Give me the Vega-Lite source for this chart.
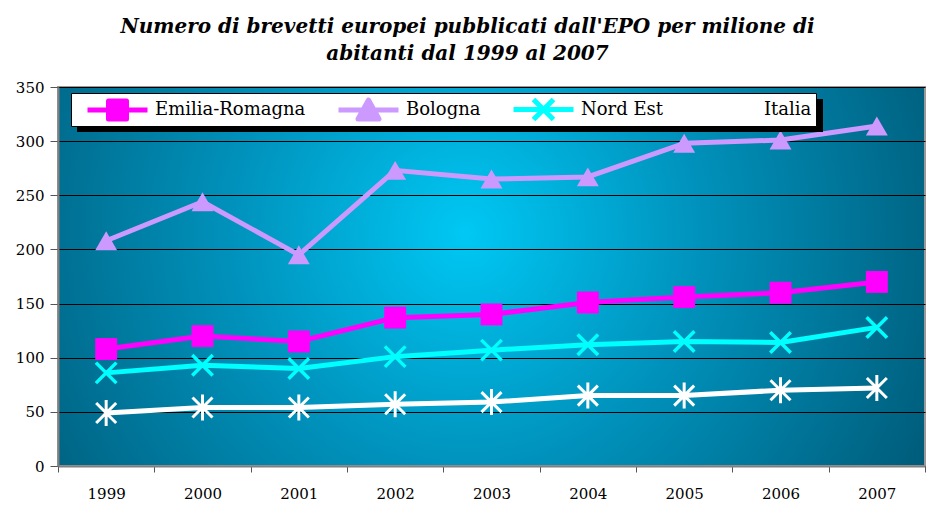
{
  "$schema": "https://vega.github.io/schema/vega-lite/v6.json",
  "width": 867,
  "height": 379,
  "autosize": "none",
  "padding": {"left": 58, "top": 87, "right": 6, "bottom": 49},
  "background": "white",
  "title": {
    "text": ["Numero di brevetti europei pubblicati dall'EPO per milione di", "abitanti dal 1999 al 2007"],
    "font": "DejaVu Serif",
    "fontStyle": "italic",
    "fontWeight": "bold",
    "fontSize": 20,
    "lineHeight": 27,
    "color": "black",
    "anchor": "middle",
    "frame": "group",
    "dx": -24,
    "offset": 16
  },
  "data": {
    "values": [
      {"year": "1999", "series": "Emilia-Romagna", "value": 108},
      {"year": "2000", "series": "Emilia-Romagna", "value": 120},
      {"year": "2001", "series": "Emilia-Romagna", "value": 115},
      {"year": "2002", "series": "Emilia-Romagna", "value": 137},
      {"year": "2003", "series": "Emilia-Romagna", "value": 140},
      {"year": "2004", "series": "Emilia-Romagna", "value": 151},
      {"year": "2005", "series": "Emilia-Romagna", "value": 156},
      {"year": "2006", "series": "Emilia-Romagna", "value": 160},
      {"year": "2007", "series": "Emilia-Romagna", "value": 170},
      {"year": "1999", "series": "Bologna", "value": 208},
      {"year": "2000", "series": "Bologna", "value": 244},
      {"year": "2001", "series": "Bologna", "value": 195},
      {"year": "2002", "series": "Bologna", "value": 273},
      {"year": "2003", "series": "Bologna", "value": 265},
      {"year": "2004", "series": "Bologna", "value": 267},
      {"year": "2005", "series": "Bologna", "value": 298},
      {"year": "2006", "series": "Bologna", "value": 301},
      {"year": "2007", "series": "Bologna", "value": 314},
      {"year": "1999", "series": "Nord Est", "value": 86},
      {"year": "2000", "series": "Nord Est", "value": 93},
      {"year": "2001", "series": "Nord Est", "value": 90},
      {"year": "2002", "series": "Nord Est", "value": 101},
      {"year": "2003", "series": "Nord Est", "value": 107},
      {"year": "2004", "series": "Nord Est", "value": 112},
      {"year": "2005", "series": "Nord Est", "value": 115},
      {"year": "2006", "series": "Nord Est", "value": 114},
      {"year": "2007", "series": "Nord Est", "value": 128},
      {"year": "1999", "series": "Italia", "value": 49},
      {"year": "2000", "series": "Italia", "value": 54},
      {"year": "2001", "series": "Italia", "value": 54},
      {"year": "2002", "series": "Italia", "value": 57},
      {"year": "2003", "series": "Italia", "value": 59},
      {"year": "2004", "series": "Italia", "value": 65},
      {"year": "2005", "series": "Italia", "value": 65},
      {"year": "2006", "series": "Italia", "value": 70},
      {"year": "2007", "series": "Italia", "value": 72}
    ]
  },
  "encoding": {
    "x": {
      "field": "year",
      "type": "ordinal",
      "scale": {"type": "band", "paddingInner": 0, "paddingOuter": 0},
      "axis": {
        "title": null,
        "labelAngle": 0,
        "tickBand": "extent",
        "labelFont": "DejaVu Serif",
        "labelFontSize": 15,
        "labelColor": "black",
        "labelPadding": 14,
        "tickSize": 6,
        "tickColor": "#555",
        "domainColor": "#808080",
        "domainWidth": 2,
        "grid": false
      }
    },
    "y": {
      "field": "value",
      "type": "quantitative",
      "scale": {"domain": [0, 350], "nice": false},
      "axis": {
        "title": null,
        "values": [0, 50, 100, 150, 200, 250, 300, 350],
        "labelFont": "DejaVu Serif",
        "labelFontSize": 15,
        "labelColor": "black",
        "labelPadding": 6,
        "tickSize": 8,
        "tickColor": "#555",
        "domainColor": "#808080",
        "domainWidth": 2,
        "grid": true,
        "gridColor": "black",
        "gridWidth": 1,
        "gridOpacity": 1
      }
    },
    "color": {
      "field": "series",
      "type": "nominal",
      "scale": {
        "domain": ["Emilia-Romagna", "Bologna", "Nord Est", "Italia"],
        "range": ["#FF00FF", "#CC99FF", "#00FFFF", "#FFFFFF"]
      },
      "legend": {
        "title": null,
        "orient": "none",
        "legendX": 13,
        "legendY": 6,
        "zindex": 2,
        "direction": "horizontal",
        "columns": 4,
        "columnPadding": 20,
        "padding": 4,
        "fillColor": "white",
        "strokeColor": "black",
        "labelFont": "DejaVu Serif",
        "labelFontSize": 18,
        "labelColor": "black",
        "labelOffset": 55,
        "symbolSize": 400,
        "symbolStrokeWidth": 5,
        "encode": {
          "symbols": {
            "update": {
              "shape": {"signal": "datum.value === 'Emilia-Romagna' ? 'M0,0H6M2.1,-0.9H3.9V0.9H2.1Z' : datum.value === 'Bologna' ? 'M0,0H6M3,-1L4.05,0.9L1.95,0.9Z' : datum.value === 'Nord Est' ? 'M0,0H6M2,-1L4,1M2,1L4,-1' : 'M0,0H6M2,-1L4,1M2,1L4,-1M3,-1V1'"},
              "fill": {"signal": "scale('color', datum.value)"},
              "stroke": {"signal": "scale('color', datum.value)"},
              "strokeWidth": {"value": 5},
              "strokeJoin": {"value": "round"},
              "size": {"value": 400},
              "opacity": {"value": 1}
            }
          }
        }
      }
    }
  },
  "layer": [
    {
      "mark": {"type": "point", "opacity": 0, "size": 4, "filled": true},
      "encoding": {
        "shape": {
          "field": "series",
          "type": "nominal",
          "scale": {
            "domain": ["Emilia-Romagna", "Bologna", "Nord Est", "Italia", "-"],
            "range": ["M0,0H746V33H0Z", "square", "square", "square", "square"]
          },
          "legend": {
            "title": null,
            "values": ["Emilia-Romagna"],
            "labelExpr": "''",
            "orient": "none",
            "legendX": 18,
            "legendY": 11,
            "zindex": 1,
            "padding": 0,
            "labelFontSize": 2,
            "labelOffset": 0,
            "symbolSize": 4,
            "symbolFillColor": "black",
            "symbolStrokeWidth": 0,
            "symbolOpacity": 1,
            "encode": {
              "symbols": {
                "update": {
                  "size": {"value": 4},
                  "fill": {"value": "black"},
                  "stroke": {"value": "black"},
                  "strokeWidth": {"value": 0},
                  "opacity": {"value": 1},
                  "fillOpacity": {"value": 1}
                }
              }
            }
          }
        }
      }
    },
    {
      "mark": {"type": "line", "strokeWidth": 5, "strokeJoin": "round"}
    },
    {
      "transform": [{"filter": "datum.series === 'Emilia-Romagna'"}],
      "mark": {"type": "point", "shape": "square", "filled": true, "size": 480, "opacity": 1}
    },
    {
      "transform": [{"filter": "datum.series === 'Bologna'"}],
      "mark": {"type": "point", "shape": "triangle-up", "filled": true, "size": 480, "opacity": 1}
    },
    {
      "transform": [{"filter": "datum.series === 'Nord Est'"}],
      "mark": {"type": "point", "shape": "M-1,-1L1,1M-1,1L1,-1", "filled": false, "size": 420, "strokeWidth": 3.5, "opacity": 1}
    },
    {
      "transform": [{"filter": "datum.series === 'Italia'"}],
      "mark": {"type": "point", "shape": "M-1,-1L1,1M-1,1L1,-1M0,-1.3V1.3", "filled": false, "size": 400, "strokeWidth": 3, "opacity": 1}
    }
  ],
  "config": {
    "view": {
      "stroke": "#9a9a9a",
      "strokeWidth": 2,
      "fill": {
        "gradient": "radial",
        "x1": 0.47, "y1": 0.45, "r1": 0,
        "x2": 0.47, "y2": 0.45, "r2": 0.6,
        "stops": [
          {"offset": 0, "color": "#00c8f4"},
          {"offset": 0.45, "color": "#0092bc"},
          {"offset": 1, "color": "#005a78"}
        ]
      }
    }
  }
}
